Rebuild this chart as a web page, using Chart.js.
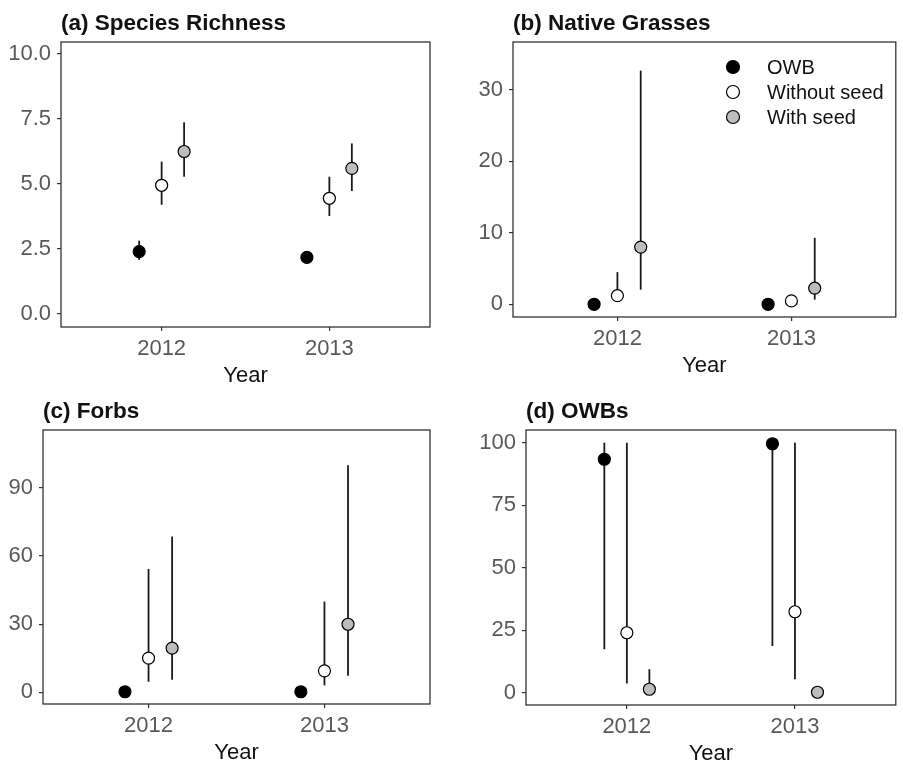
<!DOCTYPE html>
<html>
<head>
<meta charset="utf-8">
<script src="https://cdn.jsdelivr.net/npm/chart.js@4.4.1/dist/chart.umd.min.js"></script>
<style>
  html, body { margin: 0; padding: 0; background: #fff; }
  #wrap { position: relative; width: 903px; height: 764px; }
  .panel { position: absolute; }
</style>
</head>
<body>
<div id="wrap">
  <div class="panel" style="left:0;top:0"><canvas id="chart-a" width="450" height="390"></canvas></div>
  <div class="panel" style="left:450px;top:0"><canvas id="chart-b" width="453" height="390"></canvas></div>
  <div class="panel" style="left:0;top:390px"><canvas id="chart-c" width="450" height="374"></canvas></div>
  <div class="panel" style="left:450px;top:390px"><canvas id="chart-d" width="453" height="374"></canvas></div>
</div>
<script>
const YEARS = ['2012', '2013'];
const GROUPS = ['OWB', 'Without seed', 'With seed'];

// rows: OWB, Without seed, With seed ; columns: 2012, 2013
const RICH_MEAN = [[2.40, 2.18], [4.95, 4.45], [6.25, 5.60]];
const RICH_LO   = [[2.08, 2.02], [4.20, 3.77], [5.28, 4.73]];
const RICH_HI   = [[2.82, 2.34], [5.86, 5.28], [7.37, 6.56]];

const GRASS_MEAN = [[0.0, 0.0], [1.2, 0.47], [8.0, 2.25]];
const GRASS_LO   = [[0.0, 0.0], [0.4, 0.1],  [2.05, 0.65]];
const GRASS_HI   = [[0.0, 0.0], [4.5, 1.0],  [32.7, 9.3]];

const FORB_MEAN = [[0.3, 0.3], [15.1, 9.5],  [19.5, 30.0]];
const FORB_LO   = [[0.0, 0.0], [4.7, 3.1],   [5.6, 7.3]];
const FORB_HI   = [[0.8, 0.8], [54.3, 40.0], [68.6, 100.0]];

const OWB_MEAN = [[93.4, 99.6], [24.0, 32.4], [1.4, 0.2]];
const OWB_LO   = [[17.4, 18.7], [3.7, 5.4],   [0.0, 0.0]];
const OWB_HI   = [[100, 100],   [100, 100],   [9.4, 1.0]];

const RICH_TICKS  = [0, 2.5, 5, 7.5, 10];
const GRASS_TICKS = [0, 10, 20, 30];
const FORB_TICKS  = [0, 30, 60, 90];
const OWB_TICKS   = [0, 25, 50, 75, 100];

const FILLS = ['#000000', '#ffffff', '#bdbdbd'];
const DODGE = [-0.134, 0, 0.134];
const FONT = '"Liberation Sans", Arial, sans-serif';

// error bars drawn under the points
const errorBars = {
  id: 'errorBars',
  beforeDatasetsDraw(chart) {
    const { ctx, scales: { x, y } } = chart;
    ctx.save();
    ctx.strokeStyle = '#1a1a1a';
    ctx.lineWidth = 1.8;
    chart.data.datasets.forEach(ds => {
      ds.data.forEach(p => {
        if (p.hi - p.lo <= 0) return;
        const px = x.getPixelForValue(p.x);
        ctx.beginPath();
        ctx.moveTo(px, y.getPixelForValue(p.lo));
        ctx.lineTo(px, y.getPixelForValue(p.hi));
        ctx.stroke();
      });
    });
    ctx.restore();
  },
};

// panel frame + title (left aligned to the panel like ggplot)
const frame = {
  id: 'frame',
  afterDraw(chart, args, opts) {
    const { ctx, chartArea: a } = chart;
    ctx.save();
    ctx.strokeStyle = '#333';
    ctx.lineWidth = 1.3;
    ctx.strokeRect(a.left, a.top, a.right - a.left, a.bottom - a.top);
    ctx.fillStyle = '#111';
    ctx.font = `bold 22.5px ${FONT}`;
    ctx.textBaseline = 'alphabetic';
    ctx.fillText(opts.text, a.left, a.top - 12);

    if (opts.legend) {
      ctx.font = `20px ${FONT}`;
      ctx.textBaseline = 'middle';
      chart.data.datasets.forEach((ds, i) => {
        const cy = a.top + 25 + i * 25;
        const cx = a.left + 220;
        ctx.beginPath();
        ctx.arc(cx, cy, 6.5, 0, Math.PI * 2);
        ctx.fillStyle = ds.backgroundColor;
        ctx.fill();
        ctx.lineWidth = 1.2;
        ctx.strokeStyle = '#000';
        ctx.stroke();
        ctx.fillStyle = '#111';
        ctx.fillText(ds.label, cx + 34, cy + 1);
      });
    }
    ctx.restore();
  },
};

function makePanel(id, cfg) {
  const canvas = document.getElementById(id);
  const W = canvas.width, H = canvas.height;
  const datasets = GROUPS.map((g, gi) => ({
    label: g,
    data: YEARS.map((yr, yi) => ({
      x: yi + 1 + DODGE[gi],
      y: cfg.mean[gi][yi],
      lo: cfg.lo[gi][yi],
      hi: cfg.hi[gi][yi],
    })),
    backgroundColor: FILLS[gi],
    borderColor: '#000',
    borderWidth: 1.2,
    pointRadius: 6,
    showLine: false,
  }));

  return new Chart(canvas, {
    type: 'scatter',
    data: { datasets },
    plugins: [errorBars, frame],
    options: {
      responsive: false,
      animation: false,
      events: [],
      layout: {
        padding: { left: 0, top: cfg.area[1], right: W - cfg.area[2], bottom: H - cfg.area[3] - 59 },
      },
      plugins: {
        legend: { display: false },
        tooltip: { enabled: false },
        frame: { text: cfg.title, legend: !!cfg.legend },
      },
      scales: {
        x: {
          type: 'linear',
          min: 0.4,
          max: 2.6,
          afterBuildTicks: s => { s.ticks = YEARS.map((_, i) => ({ value: i + 1 })); },
          afterFit: s => { s.height = 59; },
          ticks: {
            callback: v => YEARS[v - 1],
            color: '#595959',
            font: { family: FONT, size: 22 },
            padding: 5,
            maxRotation: 0,
          },
          grid: { drawOnChartArea: false, tickLength: 4, color: '#333', lineWidth: 1.2 },
          border: { display: false },
          title: {
            display: true,
            text: 'Year',
            color: '#111',
            font: { family: FONT, size: 22 },
            padding: { top: 0, bottom: -3 },
          },
        },
        y: {
          min: cfg.yMin,
          max: cfg.yMax,
          afterBuildTicks: s => { s.ticks = cfg.ticks.map(v => ({ value: v })); },
          afterFit: s => { s.width = cfg.area[0]; },
          ticks: {
            callback: cfg.fmt,
            color: '#595959',
            font: { family: FONT, size: 22 },
            padding: 6,
          },
          grid: { drawOnChartArea: false, tickLength: 4, color: '#333', lineWidth: 1.2 },
          border: { display: false },
        },
      },
    },
  });
}

makePanel('chart-a', {
  title: '(a) Species Richness',
  mean: RICH_MEAN, lo: RICH_LO, hi: RICH_HI,
  ticks: RICH_TICKS, fmt: v => v.toFixed(1),
  yMin: -0.5, yMax: 10.46,
  area: [61, 42, 430, 327],
});

makePanel('chart-b', {
  title: '(b) Native Grasses',
  mean: GRASS_MEAN, lo: GRASS_LO, hi: GRASS_HI,
  ticks: GRASS_TICKS, fmt: v => String(v),
  yMin: -1.78, yMax: 36.7,
  area: [63, 42, 451, 317],
  legend: true,
});

makePanel('chart-c', {
  title: '(c) Forbs',
  mean: FORB_MEAN, lo: FORB_LO, hi: FORB_HI,
  ticks: FORB_TICKS, fmt: v => String(v),
  yMin: -5.1, yMax: 115.5,
  area: [43, 40, 430, 314],
});

makePanel('chart-d', {
  title: '(d) OWBs',
  mean: OWB_MEAN, lo: OWB_LO, hi: OWB_HI,
  ticks: OWB_TICKS, fmt: v => String(v),
  yMin: -4.9, yMax: 105.1,
  area: [76, 40, 451, 315],
});
</script>
</body>
</html>
